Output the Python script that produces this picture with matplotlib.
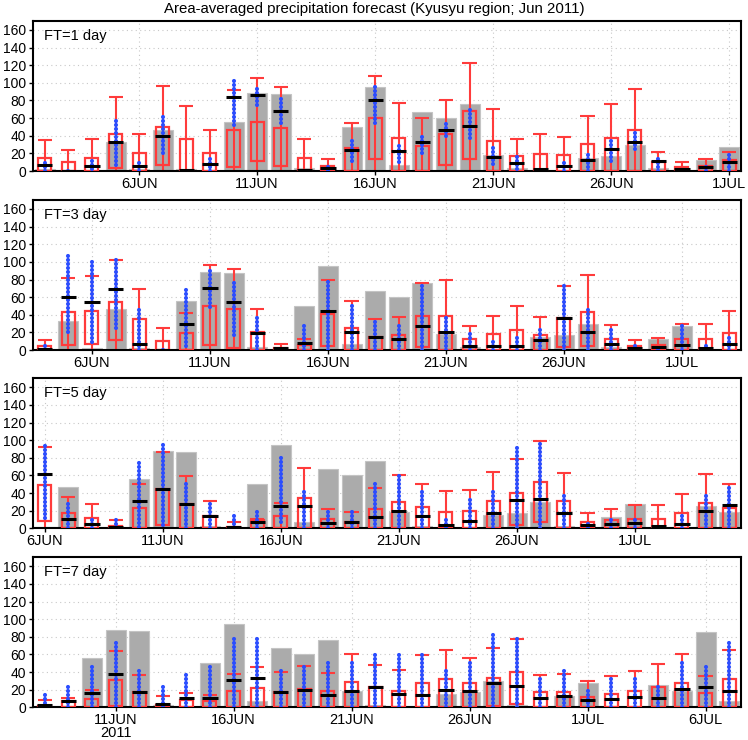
import matplotlib.pyplot as plt

plt.rcParams['font.family'] = ['Liberation Sans', 'DejaVu Sans']

# observed area-averaged precipitation, one value per day from 2 Jun (day 2) to 7 Jul (day 37)
obs_first_day = 2
obs = [2, 0, 0, 33, 2, 47, 2, 0, 56, 88, 87, 3, 0, 50, 95, 7, 67, 60, 76, 18,
       3, 0, 0, 15, 17, 30, 3, 0, 13, 27, 0, 0, 25, 19, 85, 7]

titles = ['FT=1 day', 'FT=3 day', 'FT=5 day', 'FT=7 day']
start_days = [2, 4, 6, 8]

# ensemble forecast stats, 30 days per panel
box_lo = [
    [0, 0, 0, 3, 0, 7, 0, 0, 5, 11, 6, 0, 0, 0, 14, 0, 0, 7, 14, 0, 0, 0, 0, 0, 0, 0, 0, 0, 0, 0],
    [0, 6, 7, 11, 0, 0, 0, 6, 2, 0, 0, 0, 5, 0, 0, 0, 3, 0, 0, 0, 0, 0, 3, 4, 0, 0, 0, 0, 0, 0],
    [8, 0, 0, 0, 0, 4, 0, 0, 0, 0, 0, 0, 0, 0, 0, 0, 0, 0, 0, 0, 4, 7, 0, 0, 0, 0, 0, 0, 0, 0],
    [0, 0, 0, 2, 0, 0, 0, 0, 0, 0, 0, 0, 0, 0, 0, 0, 0, 0, 0, 2, 4, 0, 0, 0, 0, 0, 0, 0, 0, 0],
]
box_hi = [
    [15, 10, 15, 42, 20, 50, 36, 20, 47, 56, 49, 15, 6, 26, 60, 38, 28, 42, 68, 34, 17, 19, 18, 31, 38, 47, 10, 4, 6, 12],
    [4, 43, 44, 55, 35, 10, 19, 50, 47, 20, 2, 6, 41, 25, 15, 17, 39, 39, 12, 18, 23, 17, 36, 43, 12, 4, 6, 12, 12, 19],
    [49, 17, 12, 3, 23, 45, 27, 14, 2, 9, 14, 34, 10, 7, 22, 30, 24, 19, 20, 31, 40, 52, 31, 7, 9, 10, 10, 17, 29, 23],
    [2, 7, 9, 31, 17, 3, 8, 7, 18, 22, 17, 21, 18, 29, 23, 19, 28, 32, 27, 33, 40, 17, 17, 12, 15, 18, 23, 28, 16, 32],
]
whisk = [
    [35, 24, 36, 84, 42, 97, 74, 46, 92, 105, 95, 36, 14, 54, 108, 77, 60, 80, 123, 70, 36, 42, 39, 62, 76, 93, 22, 10, 14, 22],
    [11, 82, 84, 102, 69, 25, 42, 97, 92, 46, 7, 13, 80, 56, 35, 37, 76, 79, 27, 39, 50, 37, 73, 85, 28, 11, 14, 30, 29, 44],
    [92, 36, 28, 9, 50, 87, 59, 31, 7, 10, 29, 68, 22, 18, 46, 61, 50, 42, 44, 64, 79, 99, 63, 17, 22, 26, 26, 39, 62, 50],
    [8, 11, 20, 64, 37, 13, 16, 14, 38, 46, 40, 47, 39, 60, 48, 42, 59, 65, 56, 67, 78, 37, 38, 30, 36, 41, 49, 61, 36, 65],
]
ens_mean = [
    [7, 0, 6, 33, 6, 40, 1, 8, 84, 86, 68, 1, 3, 24, 81, 23, 33, 47, 51, 16, 9, 2, 6, 13, 25, 33, 11, 2, 4, 10],
    [1, 60, 55, 69, 7, 0, 29, 70, 55, 19, 2, 8, 44, 21, 15, 13, 27, 20, 5, 4, 5, 11, 36, 21, 7, 2, 3, 6, 2, 7],
    [62, 10, 5, 2, 31, 45, 27, 14, 2, 7, 25, 25, 6, 7, 13, 20, 14, 4, 8, 17, 32, 33, 17, 4, 5, 6, 3, 5, 20, 26],
    [3, 7, 16, 38, 17, 4, 10, 11, 31, 33, 17, 20, 14, 19, 23, 15, 14, 20, 19, 27, 24, 11, 13, 8, 9, 12, 11, 21, 23, 19],
]
# range covered by the ensemble members (blue dots)
member_lo = [
    [0, 0, 2, 7, 0, 21, 0, 0, 52, 75, 54, 0, 0, 11, 55, 10, 20, 40, 37, 8, 2, 0, 0, 0, 11, 25, 0, 0, 0, 0],
    [0, 21, 9, 25, 0, 0, 5, 49, 17, 0, 0, 0, 0, 0, 0, 0, 0, 0, 0, 0, 0, 0, 0, 0, 0, 0, 0, 0, 0, 0],
    [12, 0, 0, 0, 2, 4, 0, 0, 0, 0, 7, 0, 0, 0, 0, 0, 0, 0, 0, 0, 0, 0, 0, 0, 0, 0, 0, 0, 0, 0],
    [0] * 30,
]
member_hi = [
    [14, 1, 16, 61, 11, 62, 2, 15, 104, 95, 85, 4, 7, 35, 96, 32, 42, 56, 71, 28, 20, 5, 11, 23, 37, 44, 15, 3, 7, 22],
    [6, 108, 102, 105, 47, 3, 69, 93, 78, 38, 4, 32, 79, 52, 36, 30, 76, 38, 22, 12, 17, 24, 77, 47, 27, 8, 5, 31, 7, 15],
    [96, 32, 14, 14, 77, 97, 55, 31, 19, 20, 82, 46, 21, 21, 52, 60, 45, 12, 34, 43, 96, 100, 40, 7, 14, 14, 5, 17, 40, 49],
    [17, 26, 48, 75, 43, 27, 41, 49, 80, 81, 46, 47, 52, 53, 60, 64, 60, 45, 55, 86, 81, 33, 45, 21, 35, 33, 24, 51, 48, 77],
]

tick_days = [[6, 11, 16, 21, 26, 31], [6, 11, 16, 21, 26, 31],
             [6, 11, 16, 21, 26, 31], [11, 16, 21, 26, 31, 36]]
tick_labels = [['6JUN', '11JUN', '16JUN', '21JUN', '26JUN', '1JUL'],
               ['6JUN', '11JUN', '16JUN', '21JUN', '26JUN', '1JUL'],
               ['6JUN', '11JUN', '16JUN', '21JUN', '26JUN', '1JUL'],
               ['11JUN\n2011', '16JUN', '21JUN', '26JUN', '1JUL', '6JUL']]

red = '#ff3b3b'
blue = '#2a4dff'
gray = '#ababab'

fig = plt.figure(figsize=(7.48, 7.40), dpi=100)
fig.text(0.5, 1 - 9 / 740, 'Area-averaged precipitation forecast (Kyusyu region; Jun 2011)',
         ha='center', va='center', fontsize=10.8)

bottoms = [0.7689, 0.527, 0.2861, 0.0442]
for p in range(4):
    ax = fig.add_axes([0.0441, bottoms[p], 0.9465, 0.2025])
    s = start_days[p]
    x = list(range(s, s + 30))
    ob = obs[s - obs_first_day:s - obs_first_day + 30]
    lo = box_lo[p]
    hi = box_hi[p]

    ax.bar(x, ob, width=0.85, color=gray, edgecolor='#c4c4c4', linewidth=0.8, zorder=1)
    ax.vlines(x, 0, whisk[p], color=red, lw=1.5, zorder=2)
    ax.hlines(whisk[p], [d - 0.3 for d in x], [d + 0.3 for d in x], color=red, lw=1.5, zorder=2)
    ax.bar(x, [h - l for h, l in zip(hi, lo)], bottom=lo, width=0.55, fill=False,
           edgecolor=red, linewidth=1.6, zorder=3)
    ax.vlines(x, member_lo[p], member_hi[p], color=blue, lw=3, linestyles=(0, (0.01, 0.95)),
              capstyle='round', zorder=4)
    ax.hlines(ens_mean[p], [d - 0.32 for d in x], [d + 0.32 for d in x], color='black',
              lw=2.2, zorder=5)

    ax.set_xlim(s - 0.5, s + 29.5)
    ax.set_ylim(0, 170)
    ax.set_yticks(range(0, 161, 20))
    ax.set_xticks(tick_days[p])
    ax.set_xticklabels(tick_labels[p], linespacing=0.95)
    ax.tick_params(axis='x', length=3, width=1, labelsize=10.5, pad=1)
    ax.tick_params(axis='y', length=3, width=1, labelsize=10, pad=2)
    ax.grid(True, color='#c8c8c8', linestyle=(0, (1, 3)), linewidth=0.8, zorder=0)
    ax.set_axisbelow(True)
    for sp in ax.spines.values():
        sp.set_linewidth(1.5)
    ax.text(0.016, 0.9, titles[p], transform=ax.transAxes, fontsize=10.5, va='center', ha='left')

fig.savefig('out.png', dpi=100)
